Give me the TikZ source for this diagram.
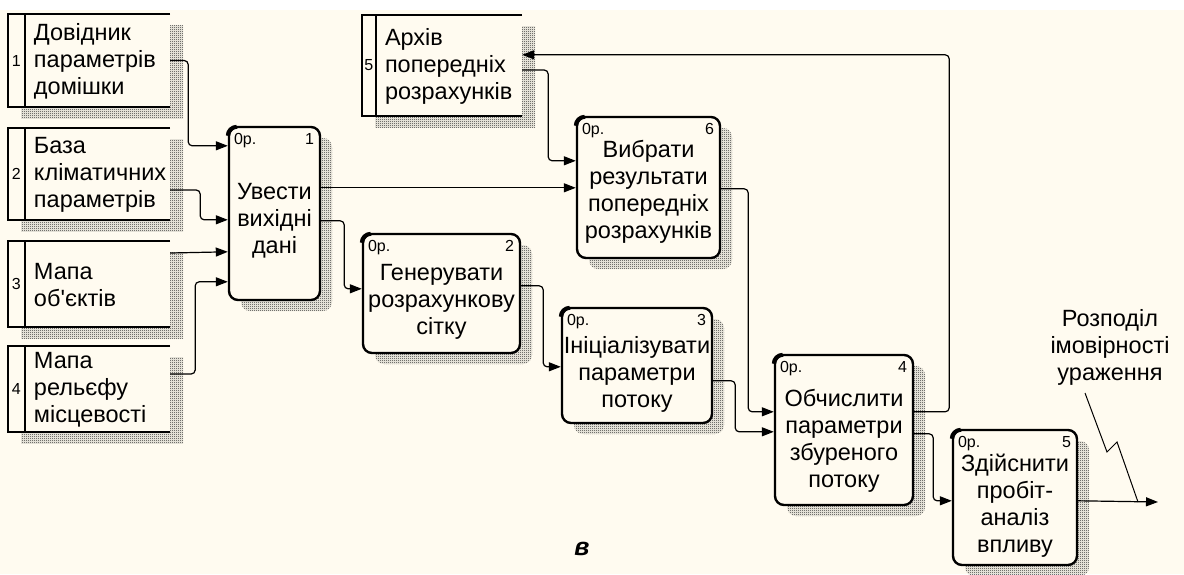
\documentclass[tikz,border=0pt]{standalone}
\usepackage{fontspec}
\setmainfont{Liberation Sans}
\usetikzlibrary{arrows.meta,positioning,calc,shadows,patterns.meta}
\definecolor{paper}{RGB}{255,251,240}
\tikzdeclarepattern{
  name=checker,
  type=uncolored,
  bottom left={(0pt,0pt)},
  top right={(2pt,2pt)},
  tile size={(2pt,2pt)},
  code={
    \pgfpathrectangle{\pgfpointorigin}{\pgfpoint{1pt}{1pt}}
    \pgfpathrectangle{\pgfpoint{1pt}{1pt}}{\pgfpoint{1pt}{1pt}}
    \pgfusepath{fill}
  }
}
\tikzset{
  hatch/.style={pattern=checker, pattern color=black!85},
  store/.style={rectangle, fill=paper, minimum width=162pt, inner sep=0pt,
    general shadow={hatch, shadow xshift=13pt, shadow yshift=-11pt}},
  proc/.style={rectangle, rounded corners=9pt, draw, line width=2.4pt, fill=paper, inner sep=0pt,
    general shadow={hatch, shadow xshift=12pt, shadow yshift=-11pt}},
  txt/.style={font=\fontsize{23.5}{27}\selectfont, align=center, inner sep=0pt},
  tag/.style={font=\fontsize{16}{18}\selectfont, inner sep=0pt},
  flow/.style={line width=1.2pt, rounded corners=4pt, -{Triangle[length=12pt,width=9pt]}},
}
\begin{document}
\begin{tikzpicture}[x=1pt,y=-1pt]
\useasboundingbox (0,0) rectangle (1184,574);
\fill[white] (0,0) rectangle (1184,574);
\fill[paper] (0,10) rectangle (1184,574);
\foreach \n/\cx/\cy/\w/\h/\d/\t in {1/89/60.5/162/93/17/{Довідник\\параметрів\\домішки},
  2/89/174/162/92/17/{База\\кліматичних\\параметрів},
  3/89/284/162/86/17/{Мапа\\об\textquotesingle єктів},
  4/89/389/162/86/17/{Мапа\\рельєфу\\місцевості},
  5/442/65.5/160/101/14/{Архів\\попередніх\\розрахунків}} {
  \node[store, minimum width=\w pt, minimum height=\h pt] (s\n) at (\cx,\cy) {};
  \draw[line width=2.4pt] (s\n.north east) -- (s\n.north west) -- (s\n.south west) -- (s\n.south east);
  \draw[line width=2.4pt] ($(s\n.north west)+(\d,0)$) -- ($(s\n.south west)+(\d,0)$);
  \node[tag] (s\n num) at ($(s\n.west)+(\d/2,0)$) {\n};
  \node[txt, align=left, anchor=west] (s\n txt) at ($(s\n.west)+(\d+9,1)$) {\t};
}
\foreach \n/\cx/\cy/\w/\h/\dy/\t in {1/274.5/213.5/91/173/7/{Увести\\вихідні\\дані},
  2/441.5/293.5/157/119/8/{Генерувати\\розрахункову\\сітку},
  3/637/365.5/150/115/9/{Ініціалізувати\\параметри\\потоку},
  4/844/430/138/150/11/{Обчислити\\параметри\\збуреного\\потоку},
  5/1015/497.5/124/135/8/{Здійснити\\пробіт-\\аналіз\\впливу},
  6/648.5/187.5/143/141/4/{Вибрати\\результати\\попередніх\\розрахунків}} {
  \node[proc, minimum width=\w pt, minimum height=\h pt] (p\n) at (\cx,\cy) {};
  \draw[line width=4pt] ($(p\n.north west)+(0,10)$) arc[start angle=180, end angle=90, radius=9pt];
  \node[txt] (p\n txt) at ($(p\n)+(0,\dy)$) {\t};
  \node[tag, anchor=north west] (p\n op) at ($(p\n.north west)+(6,7)$) {0р.};
  \node[tag, anchor=north east] (p\n num) at ($(p\n.north east)+(-7,7)$) {\n};
}
\node[txt] (res) at (1110,347) {Розподіл\\імовірності\\ураження};
\coordinate (callout) at (1085,393);
\coordinate (tap) at (1138,502);
\coordinate (out) at (1158,502);
\draw[flow] (s1.east) -- ++(18,0) |- ([yshift=-20pt]p1.north west);
\draw[flow] ([yshift=-16pt]s2.east) -- ++(30,0) |- ([yshift=-94pt]p1.north west);
\draw[flow] ([yshift=31pt]s3.east) -- ([yshift=-126pt]p1.north west);
\draw[flow] ([yshift=15pt]s4.east) -- ++(25,0) |- ([yshift=-156pt]p1.north west);
\draw[flow] ([yshift=-62pt]p1.north east) -- ([yshift=-72pt]p6.north west);
\draw[flow] ([yshift=-4.5pt]s5.east) -- ++(26,0) |- ([yshift=-45pt]p6.north west);
\draw[flow] ([yshift=-58pt]p4.north east) -- ++(35,0) |- ([yshift=-40pt]s5.north east);
\draw[flow] ([yshift=-95pt]p1.north east) -- ++(23,0) |- ([yshift=-56pt]p2.north west);
\draw[flow] ([yshift=-53pt]p2.north east) -- ++(22,0) |- ([yshift=-60pt]p3.north west);
\draw[flow] ([yshift=-73pt]p6.north east) -- ++(27,0) |- ([yshift=-58pt]p4.north west);
\draw[flow] ([yshift=-74pt]p3.north east) -- ++(22,0) |- ([yshift=-78pt]p4.north west);
\draw[flow] ([yshift=-80pt]p4.north east) -- ++(19,0) |- ([yshift=-72pt]p5.north west);
\draw[flow] ([yshift=-72pt]p5.north east) -- (out);
\draw[line width=1pt] (callout) -- ++(22,59) -- ++(10,-10) -- (tap);
\node[font=\fontsize{25}{28}\selectfont\bfseries\itshape] (cap) at (582,549) {в};
\end{tikzpicture}
\end{document}
